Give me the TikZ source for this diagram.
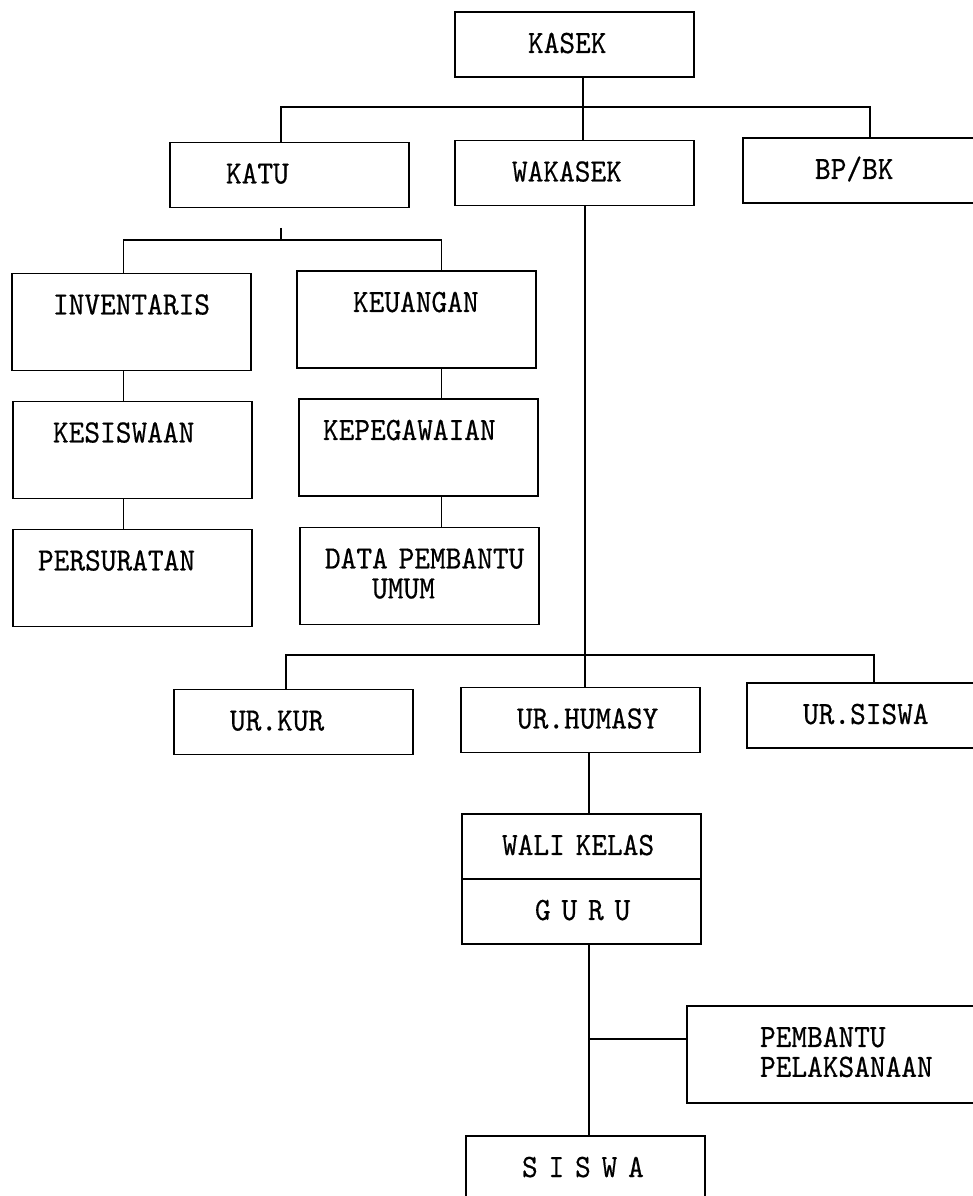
\documentclass[tikz,border=0pt]{standalone}
\usepackage{fontspec}
\setmonofont{lmmono10-regular}[Extension=.otf, FakeStretch=0.92, FakeBold=0.5]
\usepackage{tikz}
\usetikzlibrary{calc}
\tikzstyle{unit} = [rectangle, sharp corners, draw, text width=4.78cm,
                     align=left, inner xsep=0pt, inner ysep=0pt,
                     text height=0.82cm, font=\ttfamily\fontsize{18.5}{17}\selectfont]
\tikzstyle{short} = [unit, text depth=0.48cm]
\tikzstyle{tall} = [unit, text depth=1.12cm]

\begin{document}
\begin{tikzpicture}[line width=1pt,
tabstop/.style={execute at begin node={\leftskip=#1\relax}}]
\useasboundingbox (0,0) rectangle (19.46,23.92);

%Kepala sekolah
\node [short,tabstop=1.46cm] at (11.49,23.03) (kasek){KASEK};
\node [short,tabstop=1.12cm] at (5.79,20.42) (katu){KATU};
\node [short,tabstop=1.14cm] at (11.49,20.46) (wakasek){WAKASEK};
\node [short,tabstop=1.44cm] at (17.25,20.51) (bpbk){BP/BK};
\coordinate (hub1) at (11.66,21.78);
\coordinate (stemA) at (5.62,21.78);
\coordinate (stemB) at (17.40,21.78);
\draw (kasek.south -| hub1) -- (wakasek.north -| hub1);
\draw (katu.north -| stemA) -- (stemA) -- (stemB) -- (bpbk.north -| stemB);

%Tata usaha
\node [tall,tabstop=0.82cm] at (2.63,17.48) (inventaris){INVENTARIS};
\node [tall,tabstop=1.12cm] at (8.33,17.53) (keuangan){KEUANGAN};
\node [tall,tabstop=0.80cm] at (2.65,14.92) (kesiswaan){KESISWAAN};
\node [tall,tabstop=0.48cm] at (8.37,14.97) (kepegawaian){KEPEGAWAIAN};
\node [tall,tabstop=0.50cm] at (2.65,12.36) (persuratan){PERSURATAN};
\node [tall,tabstop=0.50cm] at (8.39,12.40) (data){DATA PEMBANTU\\\phantom{DAT}UMUM};
\coordinate (tick) at (5.62,19.36);
\coordinate (hub2) at (5.62,19.12);
\coordinate (colL) at (2.47,19.12);
\coordinate (colR) at (8.83,19.12);
\draw (tick) -- (hub2);
\draw (inventaris.north -| colL) -- (colL) -- (colR) -- (keuangan.north -| colR);
\draw (inventaris.south -| colL) -- (kesiswaan.north -| colL);
\draw (kesiswaan.south -| colL) -- (persuratan.north -| colL);
\draw (keuangan.south -| colR) -- (kepegawaian.north -| colR);
\draw (kepegawaian.south -| colR) -- (data.north -| colR);

%Urusan
\node [short,tabstop=1.12cm] at (5.87,9.48) (urkur){UR.KUR};
\node [short,tabstop=1.12cm] at (11.61,9.52) (urhumasy){UR.HUMASY};
\node [short,tabstop=1.12cm] at (17.33,9.61) (ursiswa){UR.SISWA};
\coordinate (hub3) at (11.70,10.82);
\coordinate (urL) at (5.72,10.82);
\coordinate (urR) at (17.48,10.82);
\draw (wakasek.south -| hub3) -- (urhumasy.north -| hub3);
\draw (urkur.north -| urL) -- (urL) -- (urR) -- (ursiswa.north -| urR);

%Guru dan siswa
\node [short,tabstop=0.80cm] at (11.63,6.99) (wali){WALI KELAS};
\node [short,tabstop=1.46cm] at (11.63,5.69) (guru){G U R U};
\node [tall,tabstop=1.46cm,text width=6.46cm] at (16.97,2.83) (pembantu){PEMBANTU\\PELAKSANAAN};
\node [tall,tabstop=1.12cm] at (11.71,0.23) (siswa){S I S W A};
\coordinate (hub4) at (11.78,3.14);
\draw (urhumasy.south -| hub4) -- (wali.north -| hub4);
\draw (guru.south -| hub4) -- (siswa.north -| hub4);
\draw (hub4) -- (hub4 -| pembantu.west);
\end{tikzpicture}
\end{document}
